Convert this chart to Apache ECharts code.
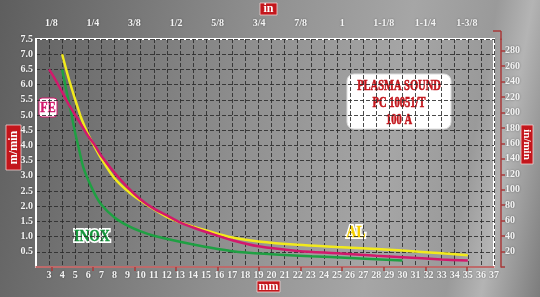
<!DOCTYPE html>
<html><head><meta charset="utf-8">
<script src="https://cdn.jsdelivr.net/npm/echarts@6/dist/echarts.min.js"></script>
<style>
html,body{margin:0;padding:0;}
#c{width:540px;height:297px;background:linear-gradient(100deg,#5e5e5e 0%,#747474 20%,#909090 45%,#a6a6a6 70%,#9a9a9a 84%,#b4b4b4 90%,#7c7c7c 100%);}
</style></head><body>
<div id="c"></div>
<script>
// ---- data ----
const alData = [[4,7.0],[4.5,6.2],[5,5.5],[5.5,4.85],[6,4.35],[6.5,3.94],[7,3.56],[8,2.92],[9,2.5],[10,2.18],[11,1.9],[12,1.65],[13,1.47],[14,1.33],[15,1.2],[17,0.97],[19,0.84],[22,0.73],[25,0.66],[28,0.59],[30,0.54],[33,0.45],[35,0.39]];
const feData = [[3,6.5],[3.5,6.15],[4,5.75],[4.5,5.35],[5,5.0],[5.5,4.65],[6,4.3],[6.5,4.0],[7,3.65],[8,3.1],[9,2.62],[10,2.22],[11,1.92],[12,1.7],[13,1.47],[14,1.3],[15,1.15],[17,0.88],[19,0.68],[22,0.53],[25,0.45],[28,0.37],[30,0.32],[33,0.25],[35,0.21]];
const inoxData = [[4,6.5],[4.3,5.85],[4.6,5.25],[5,4.4],[5.3,3.85],[5.6,3.3],[6,2.85],[6.5,2.4],[7,2.05],[8,1.63],[9,1.36],[10,1.17],[11,1.03],[13,0.83],[15,0.66],[17,0.52],[20,0.42],[23,0.35],[26,0.3],[30,0.21]];
const topInches = [0.125,0.25,0.375,0.5,0.625,0.75,0.875,1,1.125,1.25,1.375];
const topLabels = ['1/8','1/4','3/8','1/2','5/8','3/4','7/8','1','1-1/8','1-1/4','1-3/8'];
const titleLines = ['PLASMA SOUND','PC 10051/T','100 A'];
const MM_PER_IN = 25.4;
const IN_PER_M = 39.3701;

const FONT = '"Liberation Serif","Times New Roman",serif';
const RED = '#c3161c';
const AXRED = '#a83a3a';
const tickFont = {color:'#f4f4f4',fontFamily:FONT,fontWeight:'bold',fontSize:10,textShadowColor:'rgba(0,0,0,0.45)',textShadowBlur:2};
const gridDash = {color:'#2a2a2a',type:'dashed',width:1,opacity:0.85};

const chart = echarts.init(document.getElementById('c'),null,{renderer:'canvas'});
const topVals = topInches.map(v=>v*MM_PER_IN);
function redBox(x,y,w,h,text,rot,fs){
  return {type:'group',x:x,y:y,children:[
    {type:'rect',shape:{x:0,y:0,width:w,height:h},style:{fill:RED,stroke:'#f3d0d0',lineWidth:0.8}},
    {type:'text',x:w/2,y:h/2,rotation:rot||0,style:{text:text,fill:'#fff',font:'bold '+(fs||12)+'px '+FONT,align:'center',verticalAlign:'middle'}}
  ]};
}
function condText(x,y,text,fill,size,sx,extra){
  return {type:'text',x:x,y:y,scaleX:sx,style:Object.assign({text:text,fill:fill,font:'bold '+size+'px '+FONT,align:'center',verticalAlign:'middle'},extra||{})};
}
function outlinedText(x,y,text,fill,size,sx){
  return [
    condText(x,y,text,'#ffffff',size,sx,{stroke:'#ffffff',lineWidth:4}),
    condText(x,y,text,fill,size,sx,{stroke:fill,lineWidth:0.4})
  ];
}
const option = {
  animation:false,
  grid:{left:36,right:46,top:39,bottom:30,show:true,borderColor:'#ffffff',borderWidth:2,backgroundColor:'transparent'},
  xAxis:[
    {type:'value',position:'bottom',min:2,max:37,interval:1,
     axisLine:{show:true,lineStyle:{color:'#fff',width:2}},axisTick:{show:false},
     axisLabel:Object.assign({margin:3,formatter:v=>v<3?'':String(v)},tickFont),
     splitLine:{show:true,lineStyle:gridDash}},
    {type:'value',position:'top',min:2,max:37,offset:8,
     axisLine:{show:true,lineStyle:{color:AXRED,width:1.5}},
     axisTick:{show:true,inside:true,length:4,customValues:topVals,lineStyle:{color:AXRED,width:1.5}},
     axisLabel:Object.assign({margin:3,customValues:topVals,formatter:function(v){
        let best=0,bd=1e9;topVals.forEach((t,i)=>{const d=Math.abs(t-v);if(d<bd){bd=d;best=i;}});return topLabels[best];}},tickFont),
     splitLine:{show:false}}
  ],
  yAxis:[
    {type:'value',position:'left',min:0,max:7.5,interval:0.5,
     axisLine:{show:true,lineStyle:{color:'#fff',width:2}},axisTick:{show:false},
     axisLabel:Object.assign({margin:3,formatter:v=>v===0?'':v.toFixed(1)},tickFont),
     splitLine:{show:true,lineStyle:gridDash}},
    {type:'value',position:'right',min:0,max:7.5*IN_PER_M,interval:20,offset:7,
     axisLine:{show:true,lineStyle:{color:AXRED,width:1.5}},
     axisTick:{show:true,length:4,lineStyle:{color:AXRED,width:1.5}},
     axisLabel:Object.assign({margin:4,showMaxLabel:false,formatter:v=>(v===0||v>290)?'':String(v)},tickFont),
     splitLine:{show:false}}
  ],
  series:[
    {name:'INOX',type:'line',data:inoxData,smooth:0.35,showSymbol:false,lineStyle:{color:'#1fa043',width:2.5},z:3},
    {name:'AL',type:'line',data:alData,smooth:0.35,showSymbol:false,lineStyle:{color:'#f2ea1c',width:2.5},z:4},
    {name:'FE',type:'line',data:feData,smooth:0.35,showSymbol:false,lineStyle:{color:'#d2196c',width:2.5},z:5}
  ],
  graphic:[
    {type:'line',shape:{x1:493,y1:31,x2:501,y2:31},style:{stroke:AXRED,lineWidth:1.5}},
    {type:'line',shape:{x1:501,y1:31,x2:501,y2:40},style:{stroke:AXRED,lineWidth:1.5}},
    {type:'rect',shape:{x:347,y:74,width:104,height:55,r:7},style:{fill:'#ffffff',stroke:'#dddddd',lineWidth:1}},
    condText(399,86,titleLines[0],RED,15,0.7,{stroke:RED,lineWidth:0.6}),
    condText(399,103,titleLines[1],RED,15,0.7,{stroke:RED,lineWidth:0.6}),
    condText(399,120,titleLines[2],RED,15,0.7,{stroke:RED,lineWidth:0.6}),
    {type:'rect',shape:{x:39,y:98,width:18,height:19,r:3},style:{fill:'#ffffff',stroke:'#d2196c',lineWidth:1}},
    condText(48,108,'FE','#d2196c',15,0.8,{stroke:'#d2196c',lineWidth:0.5}),
    ...outlinedText(92,237,'INOX','#16963c',17,0.8),
    ...outlinedText(356,233,'AL','#f5d000',17,0.8),
    redBox(260,3,17,12,'in',0,12),
    redBox(257,281,23,11,'mm',0,12),
    redBox(6,125,15,45,'m/min',Math.PI/2,12),
    redBox(521,125,12,39,'in/min',-Math.PI/2,11)
  ]
};
chart.setOption(option);
</script>
</body></html>
